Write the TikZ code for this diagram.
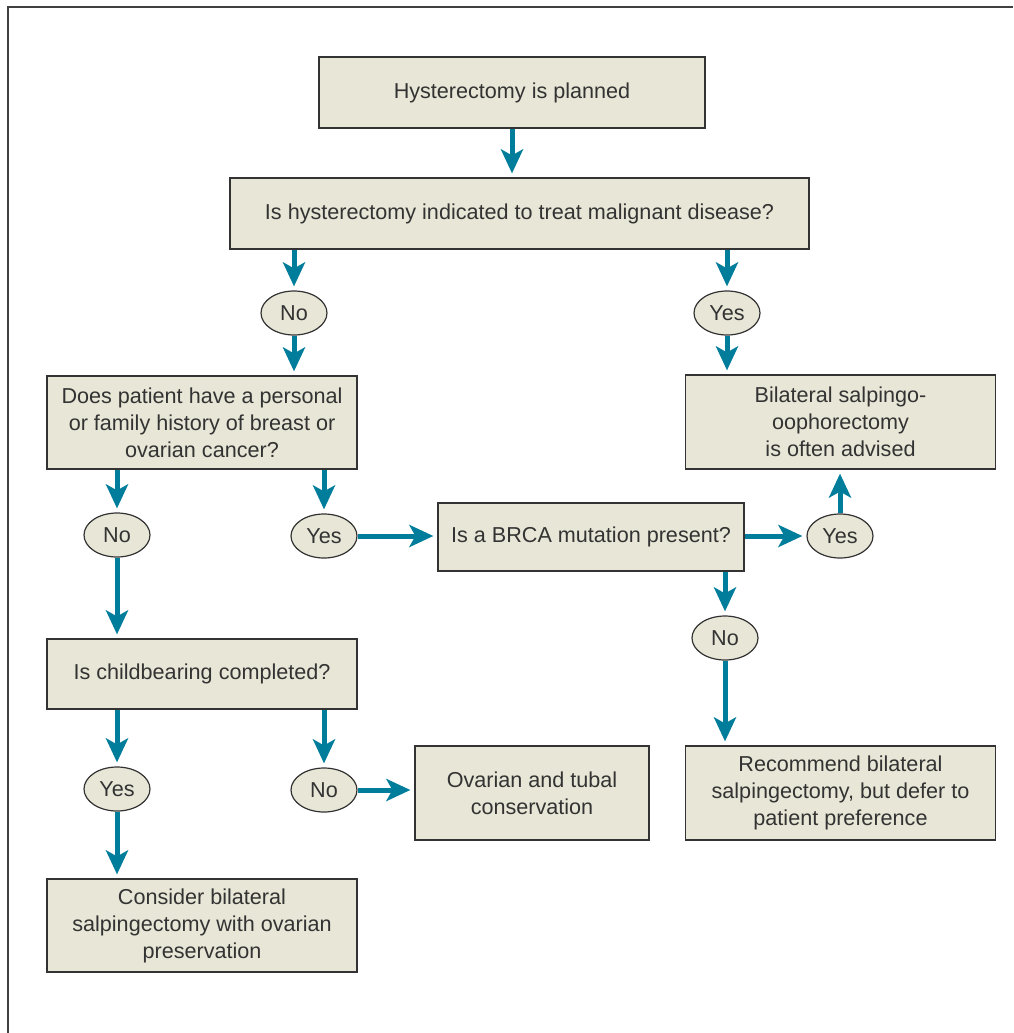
\documentclass[tikz,border=0pt]{standalone}
\usepackage{fontspec}
\setmainfont{Liberation Sans}
\usepackage{xcolor}
\usetikzlibrary{shapes.geometric, arrows.meta, positioning}

\definecolor{boxfill}{HTML}{E8E6D6}
\definecolor{flowteal}{HTML}{007D9B}
\definecolor{txtgray}{HTML}{333333}

\begin{document}
\begin{tikzpicture}[
    x=0.5pt, y=-0.5pt,
    % --- Box styles ---
    stepbox/.style={
        draw=black!80, line width=0.6pt, fill=boxfill,
        minimum width=#1, inner sep=0pt,
        align=center, text=txtgray,
        font=\fontsize{10.8}{13.5}\selectfont
    },
    stepbox/.default=155pt,
    answer/.style={
        ellipse, draw=black!80, line width=0.6pt, fill=boxfill,
        minimum width=33pt, minimum height=22pt, inner sep=0pt,
        text=txtgray, font=\fontsize{10.8}{13.5}\selectfont
    },
    % --- Arrow styles ---
    flow/.style={-{Stealth[length=12pt, width=11pt, inset=3pt]},
        draw=flowteal, line width=2.5pt, shorten >=2pt},
]
\useasboundingbox (0,0) rectangle (1013,1033);

% frame (top and left only)
\draw[black!75, line width=1pt] (1013,7) -- (8,7) -- (8,1033);

% =============================================
%  Boxes
% =============================================
\node[stepbox=193pt, minimum height=35.5pt] (plan) at (512,92.5)
    {Hysterectomy is planned};
\node[stepbox=289.5pt, minimum height=35.5pt] (malig) at (519.5,213.5)
    {Is hysterectomy indicated to treat malignant disease?};
\node[stepbox, minimum height=46.5pt] (hist) at (202,422.5)
    {Does patient have a personal\\or family history of breast or\\ovarian cancer?};
\node[stepbox, minimum height=47pt] (bso) at (840.5,422)
    {Bilateral salpingo-\\oophorectomy\\is often advised};
\node[stepbox=153pt, minimum height=34pt] (brca) at (591,537)
    {Is a BRCA mutation present?};
\node[stepbox, minimum height=35pt] (child) at (202,674)
    {Is childbearing completed?};
\node[stepbox=117pt, minimum height=47pt] (cons) at (532,793)
    {Ovarian and tubal\\conservation};
\node[stepbox, minimum height=47pt] (recom) at (840.5,793)
    {Recommend bilateral\\salpingectomy, but defer to\\patient preference};
\node[stepbox, minimum height=46.5pt] (salp) at (202,925.5)
    {Consider bilateral\\salpingectomy with ovarian\\preservation};

% =============================================
%  Answers
% =============================================
\node[answer] (malno)   at (294,313) {No};
\node[answer] (malyes)  at (727,313) {Yes};
\node[answer] (histno)  at (117,535) {No};
\node[answer] (histyes) at (324,536) {Yes};
\node[answer] (brcayes) at (840,536) {Yes};
\node[answer] (brcano)  at (725,638) {No};
\node[answer] (childyes) at (117,789) {Yes};
\node[answer] (childno)  at (324,790) {No};

% =============================================
%  Connections
% =============================================
\draw[flow] (plan.south) -- (plan.south |- malig.north);
\draw[flow] (malig.south -| malno) -- (malno);
\draw[flow] (malno) -- (hist.north -| malno);
\draw[flow] (malig.south -| malyes) -- (malyes);
\draw[flow] (malyes) -- (bso.north -| malyes);

\draw[flow] (hist.south -| histno) -- (histno);
\draw[flow] (hist.south -| histyes) -- (histyes);
\draw[flow] (histyes) -- (histyes -| brca.west);
\draw[flow] (brcayes -| brca.east) -- (brcayes);
\draw[flow] (brcayes) -- (bso.south -| brcayes);
\draw[flow] (brca.south -| brcano) -- (brcano);
\draw[flow] (brcano) -- (recom.north -| brcano);

\draw[flow] (histno) -- (child.north -| histno);
\draw[flow] (child.south -| childyes) -- (childyes);
\draw[flow] (child.south -| childno) -- (childno);
\draw[flow] (childno) -- (childno -| cons.west);
\draw[flow] (childyes) -- (salp.north -| childyes);

\end{tikzpicture}
\end{document}
